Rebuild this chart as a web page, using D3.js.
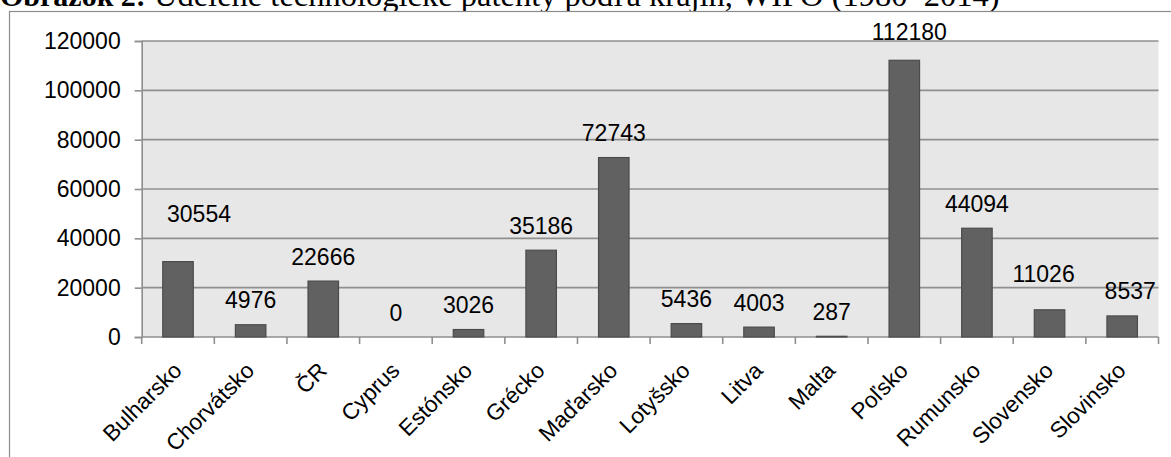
<!DOCTYPE html>
<html>
<head>
<meta charset="utf-8">
<script src="https://cdn.jsdelivr.net/npm/d3@7/dist/d3.min.js"></script>
<style>
  html, body { margin: 0; padding: 0; background: #fff; }
  svg { display: block; }
</style>
</head>
<body>
<svg id="chart" width="1171" height="457"></svg>
<script>
// Granted technology patents by country, WIPO (1980–2014)
const categories = ["Bulharsko", "Chorvátsko", "ČR", "Cyprus", "Estónsko", "Grécko", "Maďarsko",
  "Lotyšsko", "Litva", "Malta", "Poľsko", "Rumunsko", "Slovensko", "Slovinsko"];
const patents = [30554, 4976, 22666, 0, 3026, 35186, 72743, 5436, 4003, 287, 112180, 44094, 11026, 8537];
const yTickValues = [0, 20000, 40000, 60000, 80000, 100000, 120000];

const titleBold = "Obrázok 2:";
const titleRest = " Udelené technologické patenty podľa krajín, WIPO (1980–2014)";

const svg = d3.select("#chart");
const plot = { left: 141.7, right: 1158.5, top: 41, bottom: 337 };

const x = d3.scaleBand().domain(categories).range([plot.left, plot.right]).padding(0);
const y = d3.scaleLinear().domain([0, 120000]).range([plot.bottom, plot.top]);
const barW = x.bandwidth() * 0.42;

// caption above the chart frame
const title = svg.append("text")
  .attr("x", 0).attr("y", 6)
  .attr("font-family", "'Liberation Serif', 'Times New Roman', serif")
  .attr("fill", "#000");
title.append("tspan").attr("font-weight", "bold").attr("font-size", 30).text(titleBold);
title.append("tspan").attr("font-size", 32.5).text(titleRest);

// chart frame
svg.append("rect")
  .attr("x", 9.5).attr("y", 11.5).attr("width", 1300).attr("height", 600)
  .attr("fill", "#fff").attr("stroke", "#8c8c8c").attr("stroke-width", 1.2);

// plot background
svg.append("rect")
  .attr("x", plot.left).attr("y", plot.top)
  .attr("width", plot.right - plot.left).attr("height", plot.bottom - plot.top)
  .attr("fill", "#e7e7e7");

// horizontal gridlines
svg.append("g").selectAll("line").data(yTickValues.filter(v => v > 0)).join("line")
  .attr("x1", plot.left).attr("x2", plot.right)
  .attr("y1", d => y(d)).attr("y2", d => y(d))
  .attr("stroke", "#8f8f8f").attr("stroke-width", 1.6);

// y axis
const yAxis = svg.append("g")
  .attr("transform", `translate(${plot.left},0)`)
  .call(d3.axisLeft(y).tickValues(yTickValues).tickSize(7).tickPadding(14).tickFormat(d3.format("d")));
yAxis.select(".domain").attr("stroke", "#8f8f8f").attr("stroke-width", 1.6);
yAxis.selectAll(".tick line").attr("stroke", "#8f8f8f").attr("stroke-width", 1.6);
yAxis.selectAll(".tick text")
  .attr("font-family", "'Liberation Sans', Arial, sans-serif")
  .attr("font-size", 23).attr("fill", "#000");

// x axis: ticks sit on the band boundaries
const xAxisG = svg.append("g");
xAxisG.append("line")
  .attr("x1", plot.left).attr("x2", plot.right)
  .attr("y1", plot.bottom).attr("y2", plot.bottom)
  .attr("stroke", "#8f8f8f").attr("stroke-width", 1.6);
const boundaries = categories.map(c => x(c)).concat([x(categories[categories.length - 1]) + x.bandwidth()]);
xAxisG.selectAll("line.tk").data(boundaries).join("line")
  .attr("class", "tk")
  .attr("x1", d => d).attr("x2", d => d)
  .attr("y1", plot.bottom).attr("y2", plot.bottom + 7)
  .attr("stroke", "#8f8f8f").attr("stroke-width", 1.6);

// category labels, rotated
xAxisG.selectAll("text").data(categories).join("text")
  .attr("transform", d => `translate(${x(d) + x.bandwidth() / 2 + 5},${plot.bottom + 35}) rotate(-45)`)
  .attr("text-anchor", "end")
  .attr("font-family", "'Liberation Sans', Arial, sans-serif")
  .attr("font-size", 22.5).attr("fill", "#000")
  .text(d => d);

// bars
svg.append("g").selectAll("rect").data(categories).join("rect")
  .attr("x", (d) => x(d) + (x.bandwidth() - barW) / 2)
  .attr("y", (d, i) => y(patents[i]))
  .attr("width", barW)
  .attr("height", (d, i) => plot.bottom - y(patents[i]))
  .attr("fill", "#616161")
  .attr("stroke", "#4b4b4b").attr("stroke-width", 1.2);

// value labels; a few are nudged to sit where they were placed by hand
const nudge = { "Bulharsko": [21, -23], "Slovensko": [-6, -11], "Slovinsko": [8, 0], "Poľsko": [5, -4] };
svg.append("g").selectAll("text").data(categories).join("text")
  .attr("x", d => x(d) + x.bandwidth() / 2 + (nudge[d] ? nudge[d][0] : 0))
  .attr("y", (d, i) => y(patents[i]) - 16.5 + (nudge[d] ? nudge[d][1] : 0))
  .attr("text-anchor", "middle")
  .attr("font-family", "'Liberation Sans', Arial, sans-serif")
  .attr("font-size", 23).attr("fill", "#000")
  .text((d, i) => patents[i]);
</script>
</body>
</html>
